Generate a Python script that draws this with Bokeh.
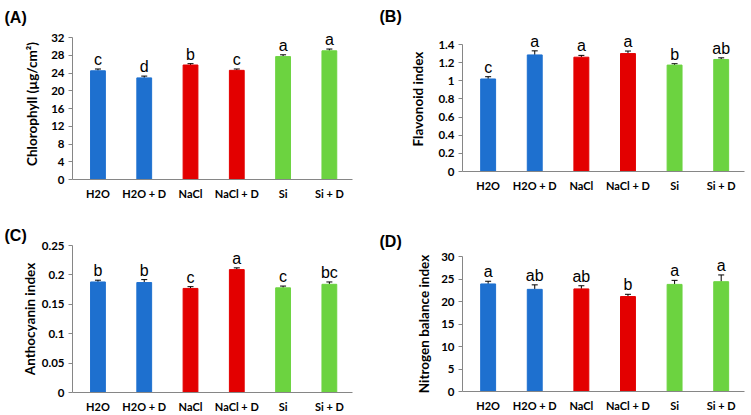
from bokeh.plotting import figure
from bokeh.layouts import column, row
from bokeh.models import (ColumnDataSource, Whisker, TeeHead, FixedTicker, Range1d,
                          CustomJSTickFormatter, LabelSet)
from bokeh.core.properties import value
from bokeh.embed import file_html
from bokeh.resources import INLINE

categories = ["H2O", "H2O + D", "NaCl", "NaCl + D", "Si", "Si + D"]
bar_colors = ["#1E70CF", "#1E70CF", "#E30000", "#E30000", "#6CD340", "#6CD340"]

chlorophyll = [24.5, 22.9, 25.8, 24.6, 27.7, 29.0]
chlorophyll_err = [0.4, 0.4, 0.3, 0.3, 0.4, 0.4]
chlorophyll_letters = ["c", "d", "b", "c", "a", "a"]
chlorophyll_ticks = [0, 4, 8, 12, 16, 20, 24, 28, 32]

flavonoid = [1.02, 1.285, 1.26, 1.30, 1.173, 1.235]
flavonoid_err = [0.025, 0.045, 0.02, 0.028, 0.015, 0.018]
flavonoid_letters = ["c", "a", "a", "a", "b", "ab"]
flavonoid_ticks = [0, 0.2, 0.4, 0.6, 0.8, 1, 1.2, 1.4]

anthocyanin = [0.188, 0.187, 0.177, 0.209, 0.178, 0.184]
anthocyanin_err = [0.003, 0.005, 0.003, 0.003, 0.003, 0.004]
anthocyanin_letters = ["b", "b", "c", "a", "c", "bc"]
anthocyanin_ticks = [0, 0.05, 0.1, 0.15, 0.2, 0.25]

nbi = [23.9, 22.7, 22.8, 21.1, 23.8, 24.4]
nbi_err = [0.6, 1.0, 0.7, 0.5, 0.9, 1.5]
nbi_letters = ["a", "ab", "ab", "b", "a", "a"]
nbi_ticks = [0, 5, 10, 15, 20, 25, 30]

AXIS_COLOR = "#868686"


def panel(tag, ylabel, vals, errs, letters, ticks, width, height,
          bl, br, tick_top, bb, headroom, title_standoff, label_standoff):
    xs = list(range(len(categories)))
    src = ColumnDataSource(dict(
        x=xs, top=vals, up=[v + e for v, e in zip(vals, errs)],
        color=bar_colors, letters=letters,
    ))
    span_px = height - tick_top - bb
    y_end = ticks[-1] + (ticks[-1] - ticks[0]) * headroom / span_px
    p = figure(width=width, height=height, output_backend="svg", toolbar_location=None,
               x_range=Range1d(-0.55, 5.5), y_range=Range1d(ticks[0], y_end),
               min_border_left=bl, min_border_right=br,
               min_border_top=tick_top - headroom, min_border_bottom=bb)
    p.vbar(x="x", top="top", bottom=0, width=0.32, color="color", source=src)
    w = Whisker(base="x", upper="up", lower="top", source=src,
                upper_head=TeeHead(size=6, line_color="black", line_width=1),
                lower_head=None, line_color="black", line_width=1)
    p.add_layout(w)
    p.add_layout(LabelSet(x="x", y="up", text="letters", source=src, text_align="center",
                          text_baseline="bottom", y_offset=1,
                          text_font=value("Liberation Sans"),
                          text_font_size="16px", text_color="black"))

    p.title.text = tag
    p.title.align = "left"
    p.title.offset = -(bl - 4)
    p.title.standoff = title_standoff
    p.title.text_font = "Liberation Sans"
    p.title.text_font_size = "16px"
    p.title.text_font_style = "bold"
    p.title.text_color = "black"

    p.xgrid.visible = False
    p.ygrid.visible = False
    p.outline_line_color = None

    xa = p.xaxis[0]
    xa.ticker = FixedTicker(ticks=xs)
    xa.major_label_overrides = {i: c for i, c in enumerate(categories)}
    xa.major_tick_out = 0
    xa.major_tick_in = 0
    xa.minor_tick_line_color = None
    xa.axis_line_color = AXIS_COLOR
    xa.major_label_standoff = 7
    xa.major_label_text_font = "Lato"
    xa.major_label_text_font_style = "bold"
    xa.major_label_text_font_size = "11px"
    xa.major_label_text_color = "black"

    ya = p.yaxis[0]
    ya.bounds = (ticks[0], ticks[-1])
    ya.ticker = FixedTicker(ticks=ticks)
    ya.formatter = CustomJSTickFormatter(code="return String(Number(tick.toFixed(4)));")
    ya.major_tick_out = 4
    ya.major_tick_in = 0
    ya.minor_tick_line_color = None
    ya.axis_line_color = AXIS_COLOR
    ya.major_tick_line_color = AXIS_COLOR
    ya.major_label_standoff = 4
    ya.major_label_text_font = "Lato"
    ya.major_label_text_font_style = "bold"
    ya.major_label_text_font_size = "11.5px"
    ya.major_label_text_color = "black"
    ya.axis_label = ylabel
    ya.axis_label_standoff = label_standoff
    ya.axis_label_text_font = "Lato"
    ya.axis_label_text_font_style = "bold"
    ya.axis_label_text_font_size = "13.5px"
    ya.axis_label_text_color = "black"
    return p


pA = panel("(A)", "Chlorophyll (µg/cm²)", chlorophyll, chlorophyll_err, chlorophyll_letters,
           chlorophyll_ticks, 375, 207, 72, 23, 37, 28, 9, 6, 8)
pB = panel("(B)", "Flavonoid index", flavonoid, flavonoid_err, flavonoid_letters,
           flavonoid_ticks, 376, 207, 87, 7, 44, 36, 18, 4, 9)
pC = panel("(C)", "Anthocyanin index", anthocyanin, anthocyanin_err, anthocyanin_letters,
           anthocyanin_ticks, 375, 208, 72, 23, 38, 23, 0, 4, 1)
pD = panel("(D)", "Nitrogen balance index", nbi, nbi_err, nbi_letters,
           nbi_ticks, 376, 208, 87, 6, 49, 24, 0, 14, 6)

layout = row(column(pA, pC), column(pB, pD))
open("out.html", "w").write(file_html(layout, INLINE))
